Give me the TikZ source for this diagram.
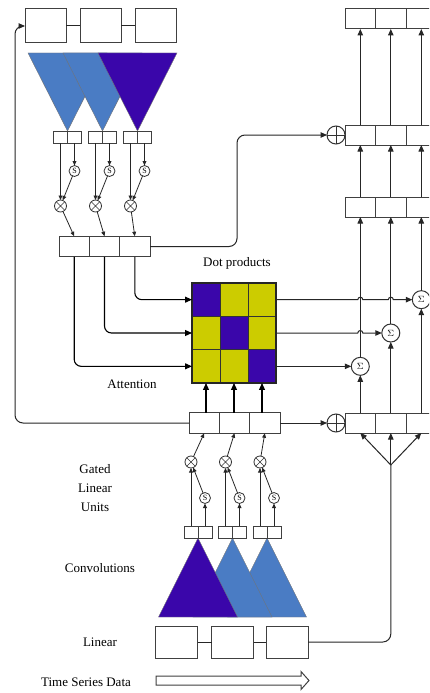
\documentclass[tikz,border=0pt]{standalone}
\usepackage{fontspec}
\setmainfont{Liberation Serif}
\usetikzlibrary{arrows.meta,calc}
\definecolor{dkblue}{RGB}{58,6,170}
\definecolor{ltblue}{RGB}{74,124,196}
\definecolor{cellyel}{RGB}{204,204,0}
\begin{document}
\begin{tikzpicture}[x=1pt,y=1pt,
  font=\fontsize{13}{19}\selectfont,
  bx/.style={draw=black!75,line width=1pt,fill=white,inner sep=0pt,outer sep=0pt},
  tlbox/.style={bx,minimum width=41pt,minimum height=34pt},
  rowbox/.style={bx,minimum width=30.4pt,minimum height=20.5pt},
  pairbox/.style={bx,minimum width=14pt,minimum height=12pt},
  linbox/.style={bx,minimum width=42pt,minimum height=32pt},
  ln/.style={draw=black!85,line width=1pt},
  arr/.style={ln,-{Triangle[length=6.5pt,width=5.5pt]}},
  barr/.style={draw=black,line width=1.1pt,-{Triangle[length=7pt,width=6pt]}},
  sarr/.style={ln,line width=0.8pt,-{Triangle[length=4.5pt,width=3.8pt]}},
  mulop/.style={circle,draw=black!80,fill=white,line width=0.8pt,minimum size=12pt,inner sep=0pt,outer sep=0pt,
    path picture={\draw[black!80,line width=0.6pt] (path picture bounding box.north west)--(path picture bounding box.south east) (path picture bounding box.north east)--(path picture bounding box.south west);}},
  sigop/.style={circle,draw=black!80,fill=white,line width=0.8pt,minimum size=11pt,inner sep=0pt,outer sep=0pt,font=\fontsize{8}{8}\selectfont},
  addop/.style={circle,draw=black!80,fill=white,line width=1pt,minimum size=18pt,inner sep=0pt,outer sep=0pt,
    path picture={\draw[black!80,line width=0.8pt] (path picture bounding box.north)--(path picture bounding box.south) (path picture bounding box.west)--(path picture bounding box.east);}},
  sumop/.style={circle,draw=black!80,fill=white,line width=1pt,minimum size=18pt,inner sep=0pt,outer sep=0pt,font=\fontsize{9}{9}\selectfont},
  cell/.style={draw=black!80,line width=0.8pt,minimum width=28pt,minimum height=33.33pt,inner sep=0pt,outer sep=0pt},
  tri/.style={draw=black!55,line width=0.4pt},
  lbl/.style={align=center,inner sep=0pt}
]
\useasboundingbox (0,0) rectangle (429,-693);
\clip (0,0) rectangle (429,-693);
\fill[white] (0,0) rectangle (429,-693);

% ---------- top-left output boxes
\node[tlbox] (tl1) at (45.5,-26) {};
\node[tlbox] (tl2) at (100.5,-26) {};
\node[tlbox] (tl3) at (155.5,-26) {};
\draw[ln] (tl1.east) -- (tl2.west) (tl2.east) -- (tl3.west);

% ---------- top (inverted) triangles
\foreach \a/\c in {67.5/ltblue,102.5/ltblue,137.5/dkblue}
  \path[tri,fill=\c] (\a-39.5,-53) -- (\a+39.5,-53) -- (\a,-131) -- cycle;

% ---------- middle-left row
\node[rowbox] (mb1) at (74.2,-246.5) {};
\node[rowbox] (mb2) at (104.5,-246.5) {};
\node[rowbox] (mb3) at (134.8,-246.5) {};

% ---------- top GLUs
\foreach \i/\a in {1/67.5,2/102.5,3/137.5}{
  \node[pairbox] (pL\i) at (\a-7,-137) {};
  \node[pairbox] (pR\i) at (\a+7,-137) {};
  \node[sigop] (sgm\i) at (\a+7,-171) {S};
  \node[mulop] (mu\i) at (\a-7,-206) {};
  \draw[sarr] (pL\i.south) -- (mu\i.north);
  \draw[sarr] (pR\i.south) -- (sgm\i.north);
  \draw[sarr] (sgm\i) -- (mu\i);
  \draw[sarr] (mu\i) -- (mb\i.north);
}

% ---------- attention input row
\node[rowbox] (ab1) at (204.2,-423) {};
\node[rowbox] (ab2) at (234.5,-423) {};
\node[rowbox] (ab3) at (264.8,-423) {};

% ---------- bottom triangles
\foreach \b/\c in {267/ltblue,232.5/ltblue,198/dkblue}
  \path[tri,fill=\c] (\b,-538) -- (\b+39.5,-617) -- (\b-39.5,-617) -- cycle;

% ---------- bottom GLUs
\foreach \i/\b in {1/198,2/232.5,3/267}{
  \node[pairbox] (qL\i) at (\b-7,-532) {};
  \node[pairbox] (qR\i) at (\b+7,-532) {};
  \node[sigop] (sgb\i) at (\b+7,-498) {S};
  \node[mulop] (mub\i) at (\b-7,-462) {};
  \draw[sarr] (qL\i.north) -- (mub\i.south);
  \draw[sarr] (qR\i.north) -- (sgb\i.south);
  \draw[sarr] (sgb\i) -- (mub\i);
  \draw[sarr] (mub\i) -- (ab\i.south);
}

% ---------- linear boxes
\node[linbox] (lb1) at (176.5,-642) {};
\node[linbox] (lb2) at (232.5,-642) {};
\node[linbox] (lb3) at (287,-642) {};
\draw[ln] (lb1.east) -- (lb2.west) (lb2.east) -- (lb3.west);

% ---------- time series arrow
\draw[black!75,line width=1pt,fill=white] (156,-676) -- (301,-676) -- (301,-671.5) -- (309,-680.5)
  -- (301,-689.5) -- (301,-685) -- (156,-685) -- cycle;

% ---------- dot-product matrix
\foreach \i/\j/\x/\y/\col in {1/1/206/299.67/dkblue,1/2/234/299.67/cellyel,1/3/262/299.67/cellyel,
  2/1/206/333/cellyel,2/2/234/333/dkblue,2/3/262/333/cellyel,
  3/1/206/366.33/cellyel,3/2/234/366.33/cellyel,3/3/262/366.33/dkblue}
  \node[cell,fill=\col] (c\i\j) at (\x,-\y) {};
\draw[line width=1.3pt,black!85] (c11.north west) rectangle (c33.south east);

\draw[barr,rounded corners=7pt] (mb1.south) |- (c31.west);
\draw[barr,rounded corners=7pt] (mb2.south) |- (c21.west);
\draw[barr,rounded corners=7pt] (mb3.south) |- (c11.west);

\draw[barr] (c31.south |- ab1.north) -- (c31.south);
\draw[barr] (c32.south |- ab2.north) -- (c32.south);
\draw[barr] (c33.south |- ab3.north) -- (c33.south);

% ---------- right column
\foreach \r/\y in {1/19,2/135,3/207,4/423}
  \foreach \c/\x in {a/360.3,b/390.8,c/421.3}
    \node[rowbox,minimum height=20pt] (r\r\c) at (\x,-\y) {};

\node[sumop] (sum3) at (r1c |- c13) {$\Sigma$};
\node[sumop] (sum2) at (r1b |- c23) {$\Sigma$};
\node[sumop] (sum1) at (r1a |- c33) {$\Sigma$};

\foreach \c/\s in {a/1,b/2,c/3}{
  \draw[arr] (r4\c.north) -- (sum\s.south);
  \draw[arr] (sum\s.north) -- (r3\c.south);
  \draw[arr] (r3\c.north) -- (r2\c.south);
  \draw[arr] (r2\c.north) -- (r1\c.south);
}

\draw[arr] (c13.east) -- ($(r1a |- c13.east)+(-2.5,0)$) arc[start angle=180,end angle=0,radius=2.5]
  -- ($(r1b |- c13.east)+(-2.5,0)$) arc[start angle=180,end angle=0,radius=2.5] -- (sum3.west);
\draw[arr] (c23.east) -- ($(r1a |- c23.east)+(-2.5,0)$) arc[start angle=180,end angle=0,radius=2.5] -- (sum2.west);
\draw[arr] (c33.east) -- (sum1.west);

% ---------- residual adds
\node[addop] (op1) at (336,-135) {};
\node[addop] (op2) at (336,-423) {};
\coordinate (turn) at (237,-246.5);
\draw[arr,rounded corners=8pt] (mb3.east) -- (turn) |- (op1.west);
\draw[arr] (ab3.east) -- (op2.west);

% ---------- feedback line
\coordinate (fb) at (15,-26);
\draw[arr,rounded corners=8pt] (ab1.west) -| (fb) [sharp corners] -- (tl1.west);

% ---------- linear to right
\coordinate (fan) at (390.8,-465);
\draw[ln,rounded corners=8pt] (lb3.east) -| (fan);
\draw[arr] (fan) -- (r4a.south);
\draw[arr] (fan) -- (r4b.south);
\draw[arr] (fan) -- (r4c.south);

% ---------- labels
\node[lbl] (tdot) at (237,-263) {Dot products};
\node[lbl] (tatt) at (132,-384) {Attention};
\node[lbl] (tglu) at (95,-488) {Gated\\Linear\\Units};
\node[lbl] (tconv) at (100,-568) {Convolutions};
\node[lbl] (tlin) at (100,-642) {Linear};
\node[lbl] (tts) at (86,-682) {Time Series Data};
\end{tikzpicture}
\end{document}
